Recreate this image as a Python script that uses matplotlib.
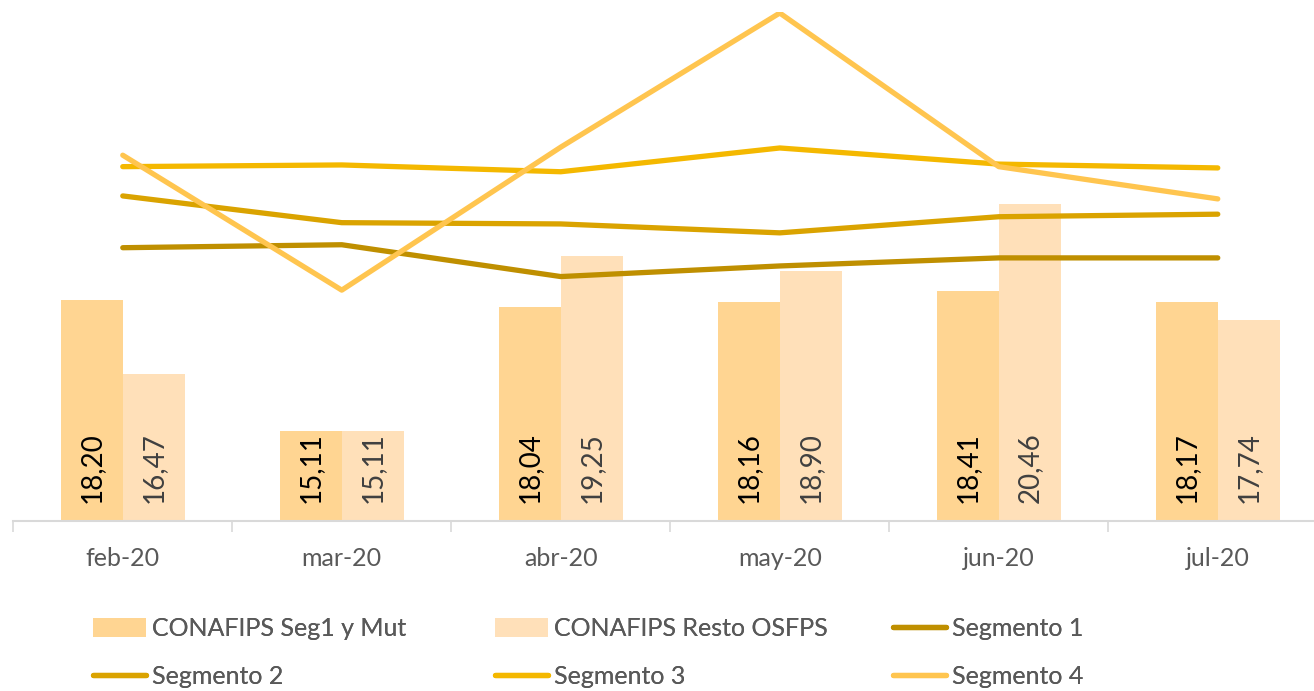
import numpy as np
import matplotlib.pyplot as plt
from matplotlib.ticker import FixedLocator

plt.rcParams['font.family'] = ['Lato', 'DejaVu Sans']

meses = ['feb-20', 'mar-20', 'abr-20', 'may-20', 'jun-20', 'jul-20']
conafips_seg1 = [18.20, 15.11, 18.04, 18.16, 18.41, 18.17]
conafips_resto = [16.47, 15.11, 19.25, 18.90, 20.46, 17.74]
segmento1 = [19.44, 19.51, 18.76, 19.01, 19.20, 19.20]
segmento2 = [20.66, 20.03, 20.00, 19.79, 20.17, 20.23]
segmento3 = [21.35, 21.39, 21.23, 21.79, 21.41, 21.32]
segmento4 = [21.62, 18.44, 21.81, 24.97, 21.35, 20.59]

fig = plt.figure(figsize=(13.14, 6.91), dpi=100)
ax = fig.add_axes([0.0101, 0.246, 1.0, 0.737])

x = np.arange(len(meses))
w = 0.284
ymin = 13
b1 = ax.bar(x - w / 2, np.array(conafips_seg1) - ymin, w, bottom=ymin,
            color='#FFD592', label='CONAFIPS Seg1 y Mut')
b2 = ax.bar(x + w / 2, np.array(conafips_resto) - ymin, w, bottom=ymin,
            color='#FFE0B9', label='CONAFIPS Resto OSFPS')

for xi, v in zip(x, conafips_seg1):
    ax.annotate(f'{v:.2f}'.replace('.', ','), (xi - w / 2, ymin), xytext=(0, 13),
                textcoords='offset points', rotation=90, ha='center', va='bottom',
                fontsize=20, color='black')
for xi, v in zip(x, conafips_resto):
    ax.annotate(f'{v:.2f}'.replace('.', ','), (xi + w / 2, ymin), xytext=(0, 13),
                textcoords='offset points', rotation=90, ha='center', va='bottom',
                fontsize=20, color='#404040')

lw = 3.8
l1, = ax.plot(x, segmento1, color='#BF8F00', lw=lw, solid_capstyle='round', label='Segmento 1')
l2, = ax.plot(x, segmento2, color='#DAA300', lw=lw, solid_capstyle='round', label='Segmento 2')
l3, = ax.plot(x, segmento3, color='#F4B800', lw=lw, solid_capstyle='round', label='Segmento 3')
l4, = ax.plot(x, segmento4, color='#FFC54F', lw=lw, solid_capstyle='round', label='Segmento 4')

ax.set_xlim(-0.5, len(meses) - 0.5)
ax.set_ylim(ymin, 25)
ax.set_yticks([])
ax.set_xticks(x)
ax.set_xticklabels(meses, fontsize=18, color='#595959')
ax.xaxis.set_minor_locator(FixedLocator(np.arange(-0.5, len(meses), 1)))
ax.tick_params(axis='x', which='major', length=0, pad=18.5)
ax.tick_params(axis='x', which='minor', length=8, color='#D9D9D9', width=1.2)
for s in ['top', 'right', 'left']:
    ax.spines[s].set_visible(False)
ax.spines['bottom'].set_color('#D9D9D9')
ax.spines['bottom'].set_linewidth(1.5)

# one legend per column so the columns sit where they do in the original
columnas = [([b1, l2], ['CONAFIPS Seg1 y Mut', 'Segmento 2'], 0.0708),
            ([b2, l3], ['CONAFIPS Resto OSFPS', 'Segmento 3'], 0.3767),
            ([l1, l4], ['Segmento 1', 'Segmento 4'], 0.6796)]
for hs, ls, xa in columnas:
    leg = fig.legend(hs, ls, loc='center left', bbox_to_anchor=(xa, 0.0557),
                     frameon=False, fontsize=18, labelcolor='#595959',
                     handlelength=2.12, handleheight=0.8, handletextpad=0.25,
                     labelspacing=0.99, borderpad=0, borderaxespad=0)
    fig.add_artist(leg)

fig.savefig('out.png', dpi=100)
